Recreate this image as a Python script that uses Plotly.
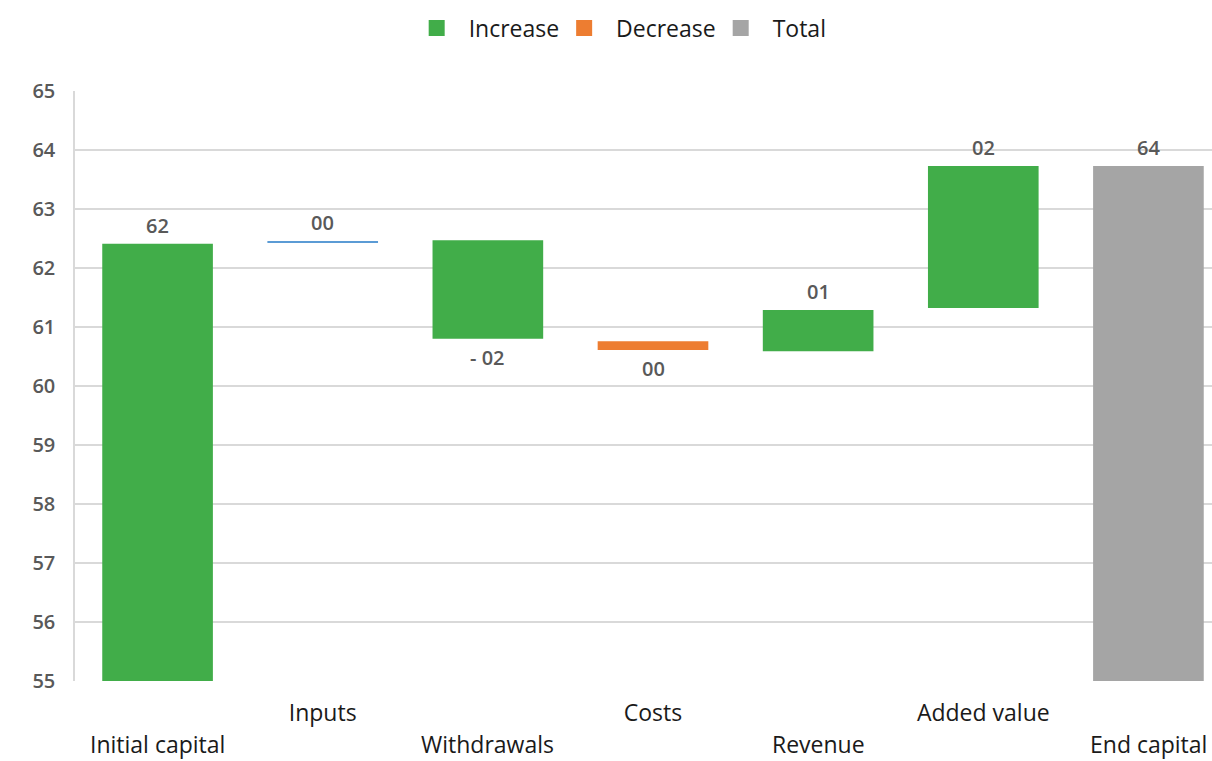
import plotly.graph_objects as go

categories = ["Initial capital", "Inputs", "Withdrawals", "Costs", "Revenue", "Added value", "End capital"]
bar_start = [55.0, 62.43, 62.47, 60.61, 60.59, 61.32, 55.0]
bar_end = [62.41, 62.45, 60.80, 60.76, 61.29, 63.73, 63.73]
bar_kind = ["Increase", "Inputs", "Increase", "Decrease", "Increase", "Increase", "Total"]
value_labels = ["62", "00", "- 02", "00", "01", "02", "64"]
label_side = ["above", "above", "below", "below", "above", "above", "above"]
y_ticks = [55, 56, 57, 58, 59, 60, 61, 62, 63, 64, 65]

colors = {"Increase": "#41ad49", "Decrease": "#ed7d31", "Total": "#a5a5a5", "Inputs": "#5b9bd5"}
label_font = dict(family="Open Sans", size=20, color="#595959", weight=600)
cat_font = dict(family="Open Sans", size=23, color="#1a1a1a")

fig = go.Figure()
for i, cat in enumerate(categories):
    lo = min(bar_start[i], bar_end[i])
    hi = max(bar_start[i], bar_end[i])
    fig.add_trace(go.Bar(
        x=[cat], y=[hi - lo], base=[lo],
        marker=dict(color=colors[bar_kind[i]], line=dict(width=0)),
        width=0.67, showlegend=False, hoverinfo="skip",
    ))
    if label_side[i] == "above":
        fig.add_annotation(x=cat, y=hi, text=value_labels[i], showarrow=False,
                           yanchor="bottom", yshift=3, font=label_font)
    else:
        fig.add_annotation(x=cat, y=lo, text=value_labels[i], showarrow=False,
                           yanchor="top", yshift=-3, font=label_font)
    if i % 2 == 0:
        fig.add_annotation(x=cat, y=0, yref="paper", text=categories[i], showarrow=False,
                           yanchor="middle", yshift=-63, font=cat_font)

for name in ["Increase", "Decrease", "Total"]:
    fig.add_trace(go.Scatter(
        x=[None], y=[None], mode="markers", name="  " + name,
        marker=dict(symbol="square", size=19, color=colors[name]),
    ))

ticktext = [c if i % 2 == 1 else "" for i, c in enumerate(categories)]

fig.update_layout(
    width=1212, height=761,
    margin=dict(l=75, r=0, t=91, b=80),
    paper_bgcolor="white", plot_bgcolor="white",
    legend=dict(orientation="h", xref="container", yref="container",
                x=0.515, y=0.963, xanchor="center", yanchor="middle",
                font=dict(family="Open Sans", size=23, color="#1a1a1a"),
                itemsizing="trace"),
    xaxis=dict(range=[-0.5, 6.385], tickmode="array", tickvals=categories,
               ticktext=ticktext, showgrid=False, ticks="", ticklabelstandoff=16,
               tickfont=cat_font,
               showline=False, zeroline=False, automargin=False),
    yaxis=dict(range=[55, 65], tickvals=y_ticks, showgrid=True,
               gridcolor="#d9d9d9", gridwidth=1.5,
               tickfont=dict(family="Open Sans", size=20, color="#595959", weight=600),
               ticks="", ticklen=0, ticklabelstandoff=14,
               showline=True, linecolor="#d9d9d9", linewidth=1.5,
               zeroline=False, automargin=False),
)

fig.write_html("out.html")
